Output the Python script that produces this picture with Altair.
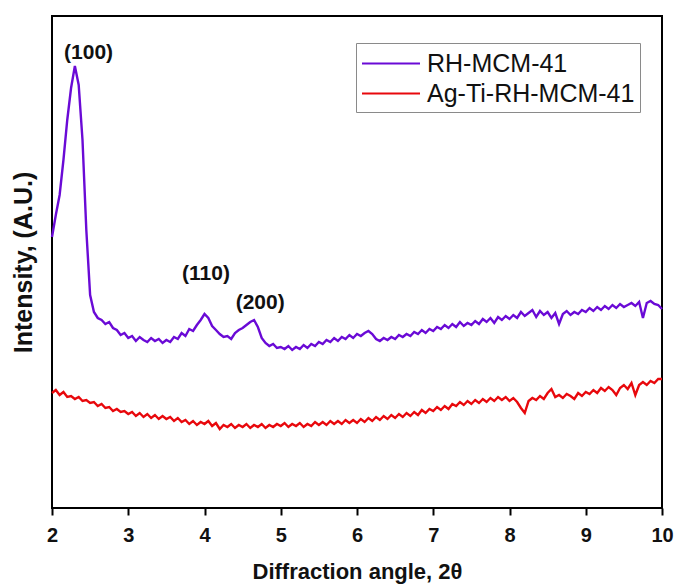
import altair as alt
import pandas as pd

# ---- data ----
angle = [2.00, 2.05, 2.10, 2.15, 2.20, 2.25, 2.30, 2.35, 2.40, 2.45,
         2.50, 2.55, 2.60, 2.65, 2.70, 2.75, 2.80, 2.85, 2.90, 2.95,
         3.00, 3.05, 3.10, 3.15, 3.20, 3.25, 3.30, 3.35, 3.40, 3.45,
         3.50, 3.55, 3.60, 3.65, 3.70, 3.75, 3.80, 3.85, 3.90, 3.95,
         4.00, 4.05, 4.10, 4.15, 4.20, 4.25, 4.30, 4.35, 4.40, 4.45,
         4.50, 4.55, 4.60, 4.65, 4.70, 4.75, 4.80, 4.85, 4.90, 4.95,
         5.00, 5.05, 5.10, 5.15, 5.20, 5.25, 5.30, 5.35, 5.40, 5.45,
         5.50, 5.55, 5.60, 5.65, 5.70, 5.75, 5.80, 5.85, 5.90, 5.95,
         6.00, 6.05, 6.10, 6.15, 6.20, 6.25, 6.30, 6.35, 6.40, 6.45,
         6.50, 6.55, 6.60, 6.65, 6.70, 6.75, 6.80, 6.85, 6.90, 6.95,
         7.00, 7.05, 7.10, 7.15, 7.20, 7.25, 7.30, 7.35, 7.40, 7.45,
         7.50, 7.55, 7.60, 7.65, 7.70, 7.75, 7.80, 7.85, 7.90, 7.95,
         8.00, 8.05, 8.10, 8.15, 8.20, 8.25, 8.30, 8.35, 8.40, 8.45,
         8.50, 8.55, 8.60, 8.65, 8.70, 8.75, 8.80, 8.85, 8.90, 8.95,
         9.00, 9.05, 9.10, 9.15, 9.20, 9.25, 9.30, 9.35, 9.40, 9.45,
         9.50, 9.55, 9.60, 9.65, 9.70, 9.75, 9.80, 9.85, 9.90, 9.95,
         10.00]

rh_mcm41 = [271, 293, 313, 348, 388, 420, 442, 423, 368, 278,
            213, 196, 190, 188, 184, 186, 180, 178, 173, 175,
            170, 172, 167, 171, 168, 166, 170, 167, 169, 165,
            168, 166, 171, 169, 175, 172, 179, 177, 183, 188,
            194, 190, 182, 178, 174, 171, 172, 169, 175, 178,
            180, 183, 186, 188, 181, 170, 165, 162, 164, 160,
            161, 159, 162, 158, 161, 159, 163, 160, 164, 162,
            166, 164, 168, 166, 170, 167, 171, 169, 173, 170,
            174, 172, 175, 177, 174, 169, 167, 170, 168, 171,
            169, 173, 171, 174, 172, 176, 174, 178, 175, 179,
            177, 181, 179, 183, 180, 184, 181, 186, 182, 185,
            183, 187, 184, 189, 186, 190, 185, 191, 188, 192,
            189, 193, 190, 196, 192, 195, 198, 191, 197, 193,
            196, 190, 195, 184, 194, 197, 193, 196, 194, 198,
            196, 200, 197, 201, 198, 202, 199, 203, 200, 204,
            201, 203, 205, 202, 206, 190, 205, 207, 204, 203,
            199]

ag_ti_rh_mcm41 = [115, 118, 113, 116, 111, 112, 109, 111, 107, 108,
                  105, 106, 102, 104, 100, 101, 97, 99, 96, 97,
                  94, 96, 92, 95, 91, 94, 90, 93, 89, 92,
                  89, 91, 87, 90, 86, 88, 84, 87, 83, 86,
                  84, 87, 82, 85, 79, 83, 81, 84, 80, 83,
                  81, 84, 80, 83, 81, 84, 80, 83, 81, 84,
                  82, 85, 81, 84, 82, 85, 81, 84, 82, 86,
                  83, 86, 83, 87, 84, 87, 84, 88, 85, 88,
                  85, 89, 86, 90, 87, 91, 88, 92, 89, 93,
                  90, 94, 91, 95, 92, 96, 93, 98, 95, 99,
                  97, 101, 98, 102, 99, 104, 102, 106, 103, 107,
                  104, 108, 105, 109, 106, 110, 107, 111, 108, 111,
                  107, 110, 106, 100, 95, 107, 110, 108, 112, 109,
                  115, 119, 111, 113, 110, 114, 112, 109, 115, 112,
                  116, 114, 118, 115, 120, 117, 121, 118, 113, 120,
                  123, 119, 125, 113, 123, 126, 123, 127, 125, 129,
                  129]

series_names = ["RH-MCM-41", "Ag-Ti-RH-MCM-41"]
series_colors = ["#6a0ad6", "#e8080c"]

peak_labels = ["(100)", "(110)", "(200)"]
peak_angle = [2.48, 4.02, 4.73]
peak_level = [449, 228, 199]

tick_values = [2, 2.5, 3, 3.5, 4, 4.5, 5, 5.5, 6, 6.5, 7, 7.5, 8, 8.5, 9, 9.5, 10]

FONT = "Liberation Sans"

df = pd.concat([
    pd.DataFrame({"angle": angle, "intensity": rh_mcm41, "sample": series_names[0]}),
    pd.DataFrame({"angle": angle, "intensity": ag_ti_rh_mcm41, "sample": series_names[1]}),
])
ann = pd.DataFrame({"angle": peak_angle, "intensity": peak_level, "label": peak_labels})

x_scale = alt.Scale(domain=[2, 10], nice=False, zero=False)
y_scale = alt.Scale(domain=[0, 492], nice=False, zero=False)

lines = alt.Chart(df).mark_line(strokeWidth=2.4).encode(
    x=alt.X("angle:Q", scale=x_scale,
            axis=alt.Axis(values=tick_values,
                          labelExpr="datum.value % 1 === 0 ? format(datum.value, 'd') : ''",
                          tickSize={"condition": {"test": "datum.value % 1 === 0", "value": 7}, "value": 4},
                          title="Diffraction angle, 2\u03b8")),
    y=alt.Y("intensity:Q", scale=y_scale,
            axis=alt.Axis(labels=False, ticks=False, domain=False, grid=False,
                          title="Intensity, (A.U.)")),
    color=alt.Color("sample:N",
                    scale=alt.Scale(domain=series_names, range=series_colors),
                    legend=alt.Legend(title=None)),
    order=alt.Order("angle:Q"),
)

texts = alt.Chart(ann).mark_text(font=FONT, fontSize=21, fontWeight="bold",
                                 align="center", baseline="alphabetic",
                                 color="#111111").encode(
    x=alt.X("angle:Q", scale=x_scale),
    y=alt.Y("intensity:Q", scale=y_scale),
    text="label:N",
)

chart = alt.layer(lines, texts).properties(
    width=610, height=492,
    autosize=alt.AutoSizeParams(type="none"),
    padding={"left": 52, "top": 16, "right": 13, "bottom": 80},
).configure_view(
    stroke="black", strokeWidth=2
).configure_axis(
    grid=False,
    domain=False,
    tickColor="black",
    tickWidth=2,
    labelFont=FONT,
    labelFontSize=20,
    labelFontWeight="bold",
    labelColor="#111111",
    titleFont=FONT,
    titleFontWeight="bold",
    titleColor="#111111",
).configure_axisX(
    labelFlush=False,
    labelPadding=10,
    titleFontSize=22,
    titlePadding=16,
).configure_axisY(
    titleFontSize=25,
    titlePadding=16,
).configure_legend(
    orient="none",
    legendX=304,
    legendY=27,
    strokeColor="#8a8a8a",
    strokeWidth=1,
    fillColor="white",
    padding=5,
    labelFont=FONT,
    labelFontSize=25,
    labelLimit=0,
    labelColor="#111111",
    symbolType="M-1,0L3,0",
    symbolSize=841,
    symbolStrokeWidth=2,
    labelOffset=35,
    rowPadding=1,
)

chart.save("out.html", embed_options={"renderer": "svg", "actions": False})
